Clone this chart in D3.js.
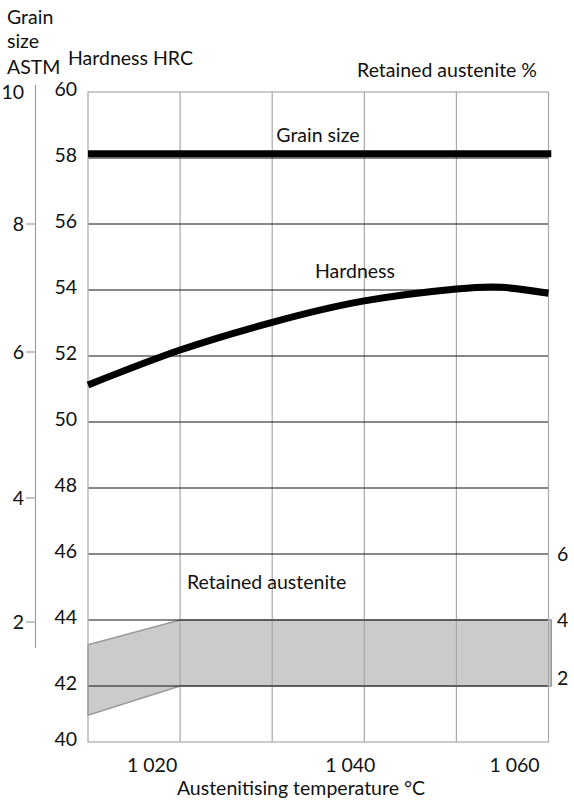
<!DOCTYPE html>
<html><head><meta charset="utf-8">
<script src="https://cdn.jsdelivr.net/npm/d3@7"></script>
<style>body{margin:0;background:#fff}svg{display:block}text{font-family:Lato,"Open Sans",sans-serif;fill:#111}</style>
</head><body><svg id="c" width="574" height="808"></svg>
<script>
// Data
const hardTemps = [1010, 1020, 1030, 1040, 1050, 1055, 1060];
const hardness  = [51.12, 52.18, 53.02, 53.67, 54.03, 54.08, 53.9];
const grainTemps = [1010, 1060.3];
const grainSize  = [58.13, 58.13];           // plotted on HRC axis (≈ ASTM 9)
const raTemps = [1010, 1020, 1060.3];
const raLow   = [0.96, 2.0, 2.0];             // retained austenite %, lower bound
const raHigh  = [3.25, 4.0, 4.0];             // retained austenite %, upper bound
const hrcTicks = [40, 42, 44, 46, 48, 50, 52, 54, 56, 58, 60];
const astmTicks = [2, 4, 6, 8, 10];
const raTicks = [2, 4, 6];
const tempTicks = [1020, 1040, 1060];
const tempTickLabels = ["1 020", "1 040", "1 060"];
const tempGrid = [1020, 1030, 1040, 1050];

const FS = 19.5;
const svg = d3.select("#c");
const x = d3.scaleLinear().domain([1010, 1060]).range([88, 548.5]);
const y = d3.scaleLinear().domain([40, 42, 60]).range([742, 686, 92]);
const yAstm = d3.scaleLinear().domain([2, 4, 6, 8, 10]).range([622, 498, 352, 224, 92]);
const yRa = d3.scaleLinear().domain([2, 4, 6]).range([678, 620, 554]);
const yRaBand = v => y(v + 40);

// retained austenite band
const band = d3.area().x(d => x(d.t)).y0(d => yRaBand(d.lo)).y1(d => yRaBand(d.hi));
const bandData = raTemps.map((t, i) => ({t, lo: raLow[i], hi: raHigh[i]}));
svg.append("path").datum(bandData).attr("d", band)
  .attr("fill", "#cbcbcb").attr("stroke", "#9a9a9a").attr("stroke-width", 1.5);

// vertical grid
svg.append("g").selectAll("line").data(tempGrid).join("line")
  .attr("x1", d => x(d)).attr("x2", d => x(d)).attr("y1", y(60)).attr("y2", y(40))
  .attr("stroke", "#a8a8a8").attr("stroke-width", 1.2);
// horizontal grid
svg.append("g").selectAll("line").data(hrcTicks.filter(d => d > 40 && d < 60)).join("line")
  .attr("x1", x(1010)).attr("x2", x(1060)).attr("y1", d => y(d)).attr("y2", d => y(d))
  .attr("stroke", "#111").attr("stroke-width", 1);
// frame
svg.append("rect").attr("x", x(1010)).attr("y", y(60)).attr("width", x(1060) - x(1010)).attr("height", y(40) - y(60))
  .attr("fill", "none").attr("stroke", "#a8a8a8").attr("stroke-width", 1.2);

// grain size line
const line = d3.line().x(d => x(d[0])).y(d => y(d[1]));
svg.append("path").datum(grainTemps.map((t, i) => [t, grainSize[i]])).attr("d", line)
  .attr("fill", "none").attr("stroke", "#000").attr("stroke-width", 7);
// hardness curve
svg.append("path").datum(hardTemps.map((t, i) => [t, hardness[i]])).attr("d", line.curve(d3.curveNatural))
  .attr("fill", "none").attr("stroke", "#000").attr("stroke-width", 7);

// HRC labels
svg.append("g").selectAll("text").data(hrcTicks).join("text")
  .attr("x", 77).attr("y", d => y(d) - 3).attr("dy", "0.35em").attr("text-anchor", "end")
  .attr("font-size", FS).text(d => d);

// ASTM axis
svg.append("line").attr("x1", 35.5).attr("x2", 35.5).attr("y1", 85).attr("y2", 648)
  .attr("stroke", "#a0a0a0").attr("stroke-width", 1.2);
svg.append("g").selectAll("line").data(astmTicks.filter(d => d < 10)).join("line")
  .attr("x1", 26).attr("x2", 35).attr("y1", d => yAstm(d)).attr("y2", d => yAstm(d))
  .attr("stroke", "#a0a0a0").attr("stroke-width", 1.2);
svg.append("g").selectAll("text").data(astmTicks).join("text")
  .attr("x", 24).attr("y", d => yAstm(d)).attr("dy", "0.35em").attr("text-anchor", "end")
  .attr("font-size", FS).text(d => d);

// RA labels
svg.append("g").selectAll("text").data(raTicks).join("text")
  .attr("x", 557).attr("y", d => yRa(d)).attr("dy", "0.35em").attr("text-anchor", "start")
  .attr("font-size", FS).text(d => d);

// x tick labels
const xLabelDx = [-28, -14, -34];
svg.append("g").selectAll("text").data(tempTicks).join("text")
  .attr("x", (d, i) => x(d) + xLabelDx[i]).attr("y", 772).attr("text-anchor", "middle")
  .attr("font-size", FS).text((d, i) => tempTickLabels[i]);

// titles
svg.append("text").attr("x", 301).attr("y", 795).attr("text-anchor", "middle").attr("font-size", FS)
  .text("Austenitising temperature \u00B0C");
["Grain", "size", "ASTM"].forEach((s, i) => svg.append("text").attr("x", 7).attr("y", [24, 48, 74][i]).attr("font-size", FS).text(s));
svg.append("text").attr("x", 68).attr("y", 65).attr("font-size", FS).text("Hardness HRC");
svg.append("text").attr("x", 537).attr("y", 77).attr("text-anchor", "end").attr("font-size", FS).text("Retained austenite %");
svg.append("text").attr("x", 318).attr("y", 142).attr("text-anchor", "middle").attr("font-size", FS).text("Grain size");
svg.append("text").attr("x", 355).attr("y", 278).attr("text-anchor", "middle").attr("font-size", FS).text("Hardness");
svg.append("text").attr("x", 187).attr("y", 589).attr("font-size", FS).text("Retained austenite");
</script></body></html>
